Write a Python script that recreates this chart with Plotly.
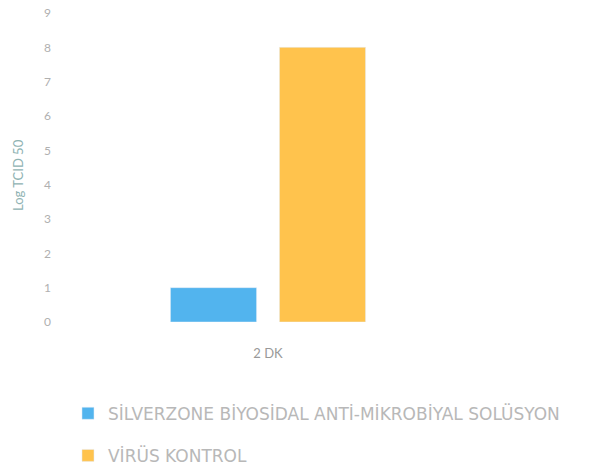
import plotly.graph_objects as go

categories = ["2 DK"]
series_names = ["SİLVERZONE BİYOSİDAL ANTİ-MİKROBİYAL SOLÜSYON", "VİRÜS KONTROL"]
silverzone_values = [1.0]
virus_values = [8.0]
y_ticks = [0, 1, 2, 3, 4, 5, 6, 7, 8, 9]
y_title = "Log TCID 50"

colors = ["#52B4EE", "#FFC34D"]

fig = go.Figure()
fig.add_trace(go.Bar(x=categories, y=silverzone_values, name=series_names[0],
                     marker_color=colors[0], legendgroup="a"))
fig.add_trace(go.Bar(x=categories, y=virus_values, name=series_names[1],
                     marker_color=colors[1], legendgroup="b"))

fig.add_annotation(text=y_title, textangle=-90, xref="paper", yref="paper",
                   x=-0.125, y=0.476, showarrow=False,
                   font=dict(size=13, color="#8fb3b3"))

fig.update_layout(
    width=599, height=470,
    paper_bgcolor="white", plot_bgcolor="white",
    margin=dict(l=60, r=123, t=13, b=148, autoexpand=False),
    barmode="group", bargap=0.476, bargroupgap=0.21,
    font=dict(family="Lato, sans-serif", color="#a8a8a8"),
    xaxis=dict(showgrid=False, showline=False, ticks="", ticklabelstandoff=22, automargin=False,
               tickfont=dict(size=13, color="#999999")),
    yaxis=dict(range=[0, 9], tickvals=y_ticks, showgrid=False, zeroline=False, showline=False,
               automargin=False, ticklabeloverflow="allow",
               tickfont=dict(size=12, color="#b0b0b0"), ticklabelstandoff=8),
    legend=dict(orientation="v", xref="container", yref="container",
                x=0.1135, xanchor="left", y=0.158, yanchor="top",
                font=dict(family="DejaVu Sans, sans-serif", size=17, color="#b8b8b8"),
                tracegroupgap=17, itemwidth=30),
)

fig.write_html("out.html", config={"displayModeBar": False},
               post_script="document.body.style.margin='0';")
